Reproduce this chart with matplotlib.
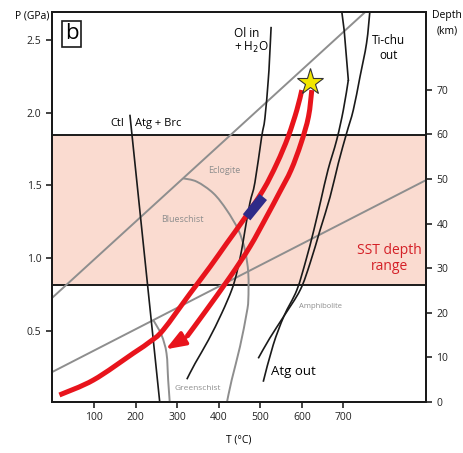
import matplotlib
matplotlib.use("Agg")
import matplotlib.pyplot as plt
from matplotlib.path import Path
from matplotlib.patches import PathPatch

plt.rcParams['font.family'] = ['Open Sans', 'DejaVu Sans']

# --- data (T in °C, P in GPa) ---
ctl_T = [186, 258]
ctl_P = [1.98, 0.0]

olin_T = [526, 522, 519, 511, 503, 487, 475, 463, 455, 443, 431, 407, 375, 343, 323]
olin_P = [2.59, 2.36, 2.22, 1.96, 1.83, 1.52, 1.38, 1.19, 1.055, 0.895, 0.78, 0.62, 0.436, 0.276, 0.166]

tichuA_T = [696, 702, 712, 700, 684, 663, 646, 629, 610, 588, 557, 531, 507]
tichuA_P = [2.70, 2.566, 2.224, 2.018, 1.812, 1.606, 1.399, 1.193, 0.986, 0.78, 0.601, 0.402, 0.149]

tichuB_T = [764, 756, 740, 724, 708, 688, 668, 644, 620, 596, 557, 523, 495]
tichuB_P = [2.70, 2.479, 2.245, 2.018, 1.86, 1.653, 1.42, 1.193, 0.966, 0.78, 0.601, 0.45, 0.31]

# facies boundaries (grey)
facies1_T = [0, 752]
facies1_P = [0.73, 2.69]
facies2_T = [0, 900]
facies2_P = [0.218, 1.537]
ecl_T = [314, 347, 387, 419, 447, 463, 471, 471, 467, 451, 431, 419]
ecl_P = [1.548, 1.525, 1.445, 1.33, 1.193, 1.055, 0.895, 0.711, 0.62, 0.39, 0.161, 0.0]
grn_T = [242, 262, 274, 278, 282]
grn_P = [0.574, 0.47, 0.345, 0.161, 0.0]

# P-T paths
path1_T = [600, 588, 567, 540, 507, 459, 419, 379, 331, 266, 234, 194, 98, 16]
path1_P = [2.155, 2.018, 1.834, 1.651, 1.468, 1.261, 1.101, 0.94, 0.757, 0.505, 0.424, 0.345, 0.161, 0.058]
path2_T = [624, 616, 598, 574, 546, 515, 475, 427, 367, 323]
path2_P = [2.155, 1.972, 1.789, 1.605, 1.45, 1.284, 1.078, 0.87, 0.63, 0.459]
arrow_tip = (272, 0.372)

blue_T = [467, 507]
blue_P = [1.28, 1.42]

star_T, star_P = 619, 2.21

sst_P = (0.814, 1.846)

x_ticks = [100, 200, 300, 400, 500, 600, 700]
y_ticks = [0.5, 1.0, 1.5, 2.0, 2.5]
depth_ticks = [0, 10, 20, 30, 40, 50, 60, 70]
km_per_gpa = 32.65

red = '#e8141c'
grey = '#8e8e8e'
black = '#1a1a1a'


def smooth(ax, xs, ys, **kw):
    # Catmull-Rom through the points, drawn as cubic Bezier path
    pts = list(zip(xs, ys))
    verts = [pts[0]]
    codes = [Path.MOVETO]
    n = len(pts)
    for i in range(n - 1):
        p0 = pts[max(i - 1, 0)]
        p1 = pts[i]
        p2 = pts[i + 1]
        p3 = pts[min(i + 2, n - 1)]
        c1 = (p1[0] + (p2[0] - p0[0]) / 6, p1[1] + (p2[1] - p0[1]) / 6)
        c2 = (p2[0] - (p3[0] - p1[0]) / 6, p2[1] - (p3[1] - p1[1]) / 6)
        verts += [c1, c2, p2]
        codes += [Path.CURVE4] * 3
    ax.add_patch(PathPatch(Path(verts, codes), fill=False, **kw))


fig = plt.figure(figsize=(4.64, 4.53), dpi=100)
ax = fig.add_axes([0.1114, 0.1133, 0.8066, 0.8602])

ax.axhspan(sst_P[0], sst_P[1], color='#fadbd0', lw=0, zorder=0)
ax.axhline(sst_P[0], color=black, lw=1.4, zorder=2)
ax.axhline(sst_P[1], color=black, lw=1.4, zorder=2)

ax.plot(facies1_T, facies1_P, color=grey, lw=1.4, zorder=3)
ax.plot(facies2_T, facies2_P, color=grey, lw=1.4, zorder=3)
smooth(ax, ecl_T, ecl_P, ec=grey, lw=1.4, zorder=3)
smooth(ax, grn_T, grn_P, ec=grey, lw=1.4, zorder=3)

ax.plot(ctl_T, ctl_P, color=black, lw=1.2, zorder=4)
smooth(ax, olin_T, olin_P, ec=black, lw=1.2, zorder=4)
ax.plot(tichuA_T[:3], tichuA_P[:3], color=black, lw=1.2, zorder=4)
smooth(ax, tichuA_T[2:], tichuA_P[2:], ec=black, lw=1.2, zorder=4)
smooth(ax, tichuB_T, tichuB_P, ec=black, lw=1.2, zorder=4)

smooth(ax, path1_T, path1_P, ec=red, lw=3.6, capstyle='butt', zorder=5)
smooth(ax, path2_T, path2_P, ec=red, lw=3.6, capstyle='butt', zorder=5)
ax.annotate("", xy=arrow_tip, xytext=(path2_T[-1], path2_P[-1]),
            arrowprops=dict(arrowstyle="-|>,head_length=0.85,head_width=0.32",
                            color=red, lw=2.6, shrinkA=0, shrinkB=0,
                            mutation_scale=14), zorder=5)
ax.plot(blue_T, blue_P, color='#2e2b88', lw=7, solid_capstyle='butt', zorder=6)
ax.plot([star_T], [star_P], marker='*', ms=20, mfc='#f2e600', mec='#333333',
        mew=0.8, zorder=7)

# labels
fs = 8
ax.text(172, 1.922, "Ctl", ha='right', va='center', fontsize=fs)
ax.text(198, 1.922, "Atg + Brc", ha='left', va='center', fontsize=fs)
ax.text(437, 2.547, "Ol in", ha='left', va='center', fontsize=8.5)
ax.text(437, 2.45, "+ H$_2$O", ha='left', va='center', fontsize=8.5)
ax.text(809, 2.499, "Ti-chu", ha='center', va='center', fontsize=8.5)
ax.text(809, 2.392, "out", ha='center', va='center', fontsize=8.5)
ax.text(810, 1.055, "SST depth", ha='center', va='center', fontsize=10, color='#d42027')
ax.text(810, 0.94, "range", ha='center', va='center', fontsize=10, color='#d42027')
ax.text(525, 0.218, "Atg out", ha='left', va='center', fontsize=9.5)
ax.text(412, 1.605, "Eclogite", ha='center', va='center', fontsize=6.5, color=grey)
ax.text(312, 1.266, "Blueschist", ha='center', va='center', fontsize=6.5, color=grey)
ax.text(349, 0.104, "Greenschist", ha='center', va='center', fontsize=6, color=grey)
ax.text(646, 0.665, "Amphibolite", ha='center', va='center', fontsize=5.5, color=grey)

ax.text(0.053, 0.944, "b", transform=ax.transAxes, ha='center', va='center',
        fontsize=16, bbox=dict(boxstyle='square,pad=0.12', fc='white', ec=black, lw=1.2))

ax.set_xlim(-2.6, 899)
ax.set_ylim(0.012, 2.692)
ax.set_xticks(x_ticks)
ax.set_yticks(y_ticks)
ax.set_yticklabels([f"{v:.1f}" for v in y_ticks])
ax.tick_params(direction='out', length=4, width=1.2, labelsize=7.5, colors='#222222')
for s in ax.spines.values():
    s.set_linewidth(1.4)
    s.set_color(black)
ax.set_xlabel("T (°C)", fontsize=7.5, labelpad=8)

ax2 = ax.twinx()
ax2.set_ylim(0.0, (2.692 - 0.012) * km_per_gpa)
ax2.set_yticks(depth_ticks)
ax2.tick_params(direction='out', length=4, width=1.2, labelsize=7.5, colors='#222222')
for s in ax2.spines.values():
    s.set_linewidth(1.4)
    s.set_color(black)

fig.text(0.1056, 0.9647, "P (GPa)", ha='right', va='center', fontsize=7.5)
fig.text(0.963, 0.9647, "Depth", ha='center', va='center', fontsize=7.5)
fig.text(0.963, 0.932, "(km)", ha='center', va='center', fontsize=7.5)

fig.savefig("out.png", dpi=100)
